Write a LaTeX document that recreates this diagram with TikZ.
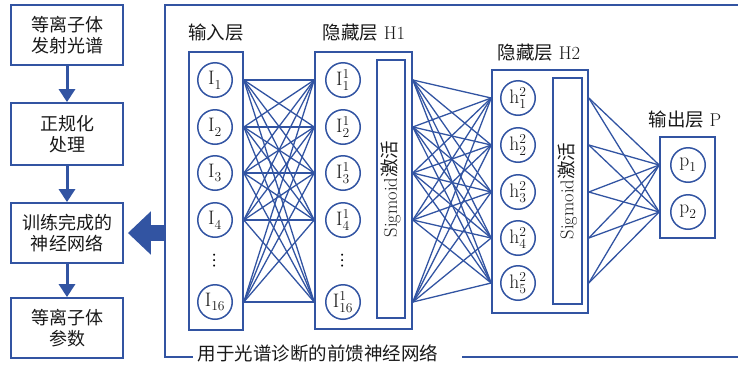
\documentclass[tikz,border=0pt]{standalone}
\usepackage{fontspec}
\usepackage{unicode-math}
\setmathfont{Latin Modern Math}
\newfontfamily\cjk{Noto Sans CJK SC}
\usetikzlibrary{arrows.meta}
\definecolor{nnblue}{RGB}{50,84,162}
\definecolor{txt}{RGB}{25,25,25}
\newcommand{\nlab}[1]{{\fontsize{19.5}{20}\selectfont$\mathrm{#1}$}}
\begin{document}
\begin{tikzpicture}[x=1pt,y=-1pt,
  flowbox/.style={draw=nnblue,line width=1.8pt,minimum width=112pt,align=center,
    font=\cjk\fontsize{18}{21}\selectfont,text=txt,inner sep=0pt},
  layerbox/.style={draw=nnblue,line width=1.6pt,inner sep=0pt},
  neuron/.style={circle,draw=nnblue,line width=1.5pt,minimum size=34.5pt,inner sep=0pt,text=txt},
  sigbox/.style={draw=nnblue,line width=1.6pt,rotate=90,inner sep=0pt,
    font=\fontsize{18.5}{20}\selectfont,text=txt},
  wire/.style={draw=nnblue,line width=1.3pt},
  flowarrow/.style={draw=nnblue,line width=3pt,-{Triangle[width=16pt,length=13pt]}},
  layerlabel/.style={font=\fontsize{18.5}{20}\selectfont,text=txt},
  framestyle/.style={draw=nnblue,line width=1.6pt}
]
\useasboundingbox (0,0) rectangle (738,370);

% left flow
\node[flowbox,minimum height=60pt] (f1) at (67,35) {等离子体\\发射光谱};
\node[flowbox,minimum height=62pt] (f2) at (67,134) {正规化\\处理};
\node[flowbox,minimum height=60pt] (f3) at (67,233) {训练完成的\\神经网络};
\node[flowbox,minimum height=60pt] (f4) at (67,328) {等离子体\\参数};
\draw[flowarrow] (f1) -- (f2);
\draw[flowarrow] (f2) -- (f3);
\draw[flowarrow] (f3) -- (f4);

% frame
\draw[framestyle] (738,5) -- (165,5) -- (165,357) -- (193,357);
\draw[framestyle] (462,357) -- (738,357);
\node[font=\cjk\fontsize{18.5}{21}\selectfont,text=txt] (lbl) at (318,353) {用于光谱诊断的前馈神经网络};
\coordinate (fr) at (165,233);
\draw[draw=nnblue,line width=16pt,-{Triangle[width=42pt,length=23pt]},shorten >=4pt] (fr) -- (f3.east);

% boxes
\node[layerbox,minimum width=54pt,minimum height=278pt] (inbox) at (216,191) {};
\node[layerbox,minimum width=97pt,minimum height=277pt] (h1box) at (363.5,190.5) {};
\node[sigbox,minimum width=258pt,minimum height=28pt] (s1) at (391,189) {Sigmoid{\cjk 激活}};
\node[layerbox,minimum width=96pt,minimum height=243pt] (h2box) at (540,191.5) {};
\node[sigbox,minimum width=226pt,minimum height=29pt] (s2) at (567.5,191) {Sigmoid{\cjk 激活}};
\node[layerbox,minimum width=55pt,minimum height=101pt] (outbox) at (687.5,187.5) {};

% labels
\node[layerlabel] (lin) at (216,33) {\cjk 输入层};
\node[layerlabel] (lh1) at (364,33) {{\cjk 隐藏层} H1};
\node[layerlabel] (lh2) at (539,53) {{\cjk 隐藏层} H2};
\node[layerlabel] (lout) at (685,120) {{\cjk 输出层} P};

% neurons
\node[neuron] (i1) at (215,80) {\nlab{I_1}};
\node[neuron] (i2) at (215,127) {\nlab{I_2}};
\node[neuron] (i3) at (215,173) {\nlab{I_3}};
\node[neuron] (i4) at (215,220) {\nlab{I_4}};
\node (idots) at (215,261) {\nlab{\vdots}};
\node[neuron] (i16) at (215,302) {\nlab{I_{16}}};

\node[neuron] (j1) at (343,80) {\nlab{I^1_1}};
\node[neuron] (j2) at (343,127) {\nlab{I^1_2}};
\node[neuron] (j3) at (343,173) {\nlab{I^1_3}};
\node[neuron] (j4) at (343,220) {\nlab{I^1_4}};
\node (jdots) at (343,261) {\nlab{\vdots}};
\node[neuron] (j16) at (343,302) {\nlab{I^1_{16}}};

\node[neuron] (h1) at (518,98) {\nlab{h^2_1}};
\node[neuron] (h2) at (518,145) {\nlab{h^2_2}};
\node[neuron] (h3) at (518,192) {\nlab{h^2_3}};
\node[neuron] (h4) at (518,238) {\nlab{h^2_4}};
\node[neuron] (h5) at (518,283) {\nlab{h^2_5}};

\node[neuron] (p1) at (688,165) {\nlab{p_1}};
\node[neuron] (p2) at (688,212) {\nlab{p_2}};

% wires
\foreach \a in {1,2,3,4,16}
  \foreach \b in {1,2,3,4,16}
    \draw[wire] (inbox.east |- i\a) -- (h1box.west |- j\b);
\foreach \a in {1,2,3,4,16}
  \foreach \b in {1,2,3,4,5}
    \draw[wire] (h1box.east |- j\a) -- (h2box.west |- h\b);
\foreach \a in {1,2,3,4,5}
  \foreach \b in {1,2}
    \draw[wire] (h2box.east |- h\a) -- (outbox.west |- p\b);
\end{tikzpicture}
\end{document}
